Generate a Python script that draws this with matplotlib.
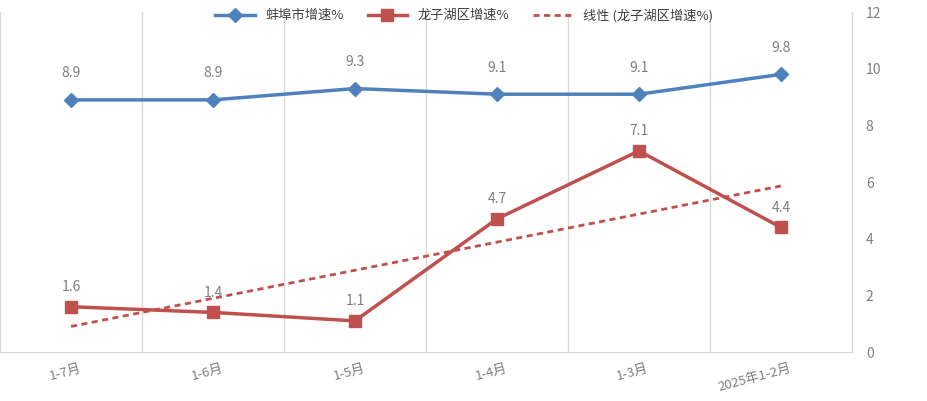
import numpy as np
import matplotlib
matplotlib.use("Agg")
import matplotlib.pyplot as plt
from matplotlib.transforms import ScaledTranslation

plt.rcParams['font.family'] = ['Noto Sans CJK SC', 'DejaVu Sans']

# Datos (orden de izquierda a derecha, como en la imagen de referencia)
categories = ['1-7月', '1-6月', '1-5月', '1-4月', '1-3月', '2025年1-2月']
bengbu = [8.9, 8.9, 9.3, 9.1, 9.1, 9.8]
longzihu = [1.6, 1.4, 1.1, 4.7, 7.1, 4.4]
yticks = [0, 2, 4, 6, 8, 10, 12]

blue = '#4F81BD'
red = '#C0504D'
gray = '#7F7F7F'
grid = '#D9D9D9'

x = np.arange(len(categories))

fig = plt.figure(figsize=(9.28, 4.01), dpi=100)
ax = fig.add_axes([0.0, 0.122, 0.918, 0.848])

# Tendencia lineal de 龙子湖区
k, b = np.polyfit(x, longzihu, 1)
ax.plot(x, k * x + b, color=red, lw=2, ls=(0, (2.2, 1.6)), label='线性 (龙子湖区增速%)', zorder=2)

ax.plot(x, bengbu, color=blue, lw=2.5, marker='D', ms=7, label='蚌埠市增速%', zorder=3)
ax.plot(x, longzihu, color=red, lw=2.5, marker='s', ms=8, label='龙子湖区增速%', zorder=3)

for xi, v in zip(x, bengbu):
    ax.annotate(f'{v}', (xi, v), xytext=(0, 14), textcoords='offset points',
                ha='center', va='bottom', color=gray, fontsize=10)
for xi, v in zip(x, longzihu):
    ax.annotate(f'{v}', (xi, v), xytext=(0, 9), textcoords='offset points',
                ha='center', va='bottom', color=gray, fontsize=10)

ax.set_xlim(-0.5, len(categories) - 0.5)
ax.set_ylim(0, 12)
ax.set_yticks(yticks)
ax.yaxis.tick_right()
ax.tick_params(axis='y', length=0, pad=10, labelcolor=gray, labelsize=10)

# Líneas verticales entre categorías
for gx in np.arange(-0.5, len(categories), 1.0):
    ax.axvline(gx, color=grid, lw=1, zorder=0)

ax.set_xticks(x)
ax.set_xticklabels(categories, rotation=15, ha='right', rotation_mode='anchor',
                   color=gray, fontsize=9.5)
ax.tick_params(axis='x', length=0, pad=7)
shift = ScaledTranslation(8 / 100, 0, fig.dpi_scale_trans)
for t in ax.get_xticklabels():
    t.set_transform(t.get_transform() + shift)

for s in ['top', 'left']:
    ax.spines[s].set_visible(False)
ax.spines['bottom'].set_color(grid)
ax.spines['right'].set_color(grid)

h, lab = ax.get_legend_handles_labels()
order = [1, 2, 0]
ax.legend([h[i] for i in order], [lab[i] for i in order], loc='upper center',
          bbox_to_anchor=(0.545, 1.045), ncol=3, frameon=False, fontsize=9.5,
          labelcolor='#404040', handlelength=3, columnspacing=1.8)

fig.savefig('out.png', dpi=100, facecolor='white')
